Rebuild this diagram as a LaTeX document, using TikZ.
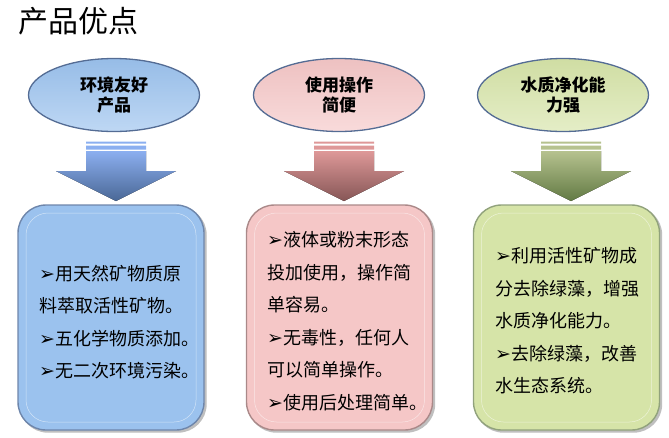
\documentclass[tikz,border=0pt]{standalone}
\usepackage{fontspec}
\usetikzlibrary{shapes.geometric}
\newfontfamily\cjk{Noto Sans CJK SC}
\newfontfamily\symfnt{DejaVu Sans}
\definecolor{pvblue}{RGB}{155,194,238}
\definecolor{pvpink}{RGB}{245,199,199}
\definecolor{pvgreen}{RGB}{214,228,168}
\definecolor{pvrim}{RGB}{84,108,148}
\definecolor{pvbluedk}{RGB}{74,104,150}
\definecolor{pvpinkdk}{RGB}{134,86,86}
\definecolor{pvgreendk}{RGB}{98,122,68}
\newcommand{\pick}{{\symfnt\fontsize{19}{19}\selectfont ➢}}

\begin{document}
\begin{tikzpicture}[x=1pt,y=-1pt,font=\cjk,
    oval/.style={ellipse,draw=pvrim,line width=1.3pt,minimum width=171pt,minimum height=73pt,
      inner sep=0pt,align=center,font=\cjk\bfseries\fontsize{17}{20}\selectfont},
    panel/.style={draw,line width=1.4pt,rounded corners=28pt,minimum width=186pt,minimum height=225pt,inner sep=0pt},
    rim/.style={draw,line width=.5pt,rounded corners=22pt,minimum width=170pt,minimum height=209pt,inner sep=0pt},
    blurb/.style={anchor=west,align=left,inner sep=0pt,font=\cjk\fontsize{18}{32.5}\selectfont}]
    \useasboundingbox (0,0) rectangle (669,437);
    \node[anchor=west,inner sep=0pt,font=\cjk\fontsize{30}{30}\selectfont] (title) at (18,21) {产品优点};
    % ovals
    \node[oval,top color=pvblue!97!black,bottom color=pvblue!65!white] (eco) at (114,95) {环境友好\\产品};
    \node[oval,top color=pvpink!97!black,bottom color=pvpink!65!white] (ease) at (339,95) {使用操作\\简便};
    \node[oval,top color=pvgreen!97!black,bottom color=pvgreen!65!white] (pure) at (563,95) {水质净化能\\力强};
    % block arrows
    \fill[top color=pvblue!90!blue,bottom color=pvbluedk] (86,151) -- (146,151) -- (146,171) -- (176,171) -- (116,201) -- (56,171) -- (86,171) -- cycle;
    \fill[pvblue!90!blue] (86,141.7) rectangle (146,143.7) (86,145.7) rectangle (146,149.5);
    \fill[top color=pvpink!85!red!90!black,bottom color=pvpinkdk] (314,151) -- (374,151) -- (374,171) -- (404,171) -- (344,201) -- (284,171) -- (314,171) -- cycle;
    \fill[pvpink!85!red!90!black] (314,141.7) rectangle (374,143.7) (314,145.7) rectangle (374,149.5);
    \fill[top color=pvgreen!85!black,bottom color=pvgreendk] (541,151) -- (601,151) -- (601,171) -- (631,171) -- (571,201) -- (511,171) -- (541,171) -- cycle;
    \fill[pvgreen!85!black] (541,141.7) rectangle (601,143.7) (541,145.7) rectangle (601,149.5);
    % panels
    \node[panel,draw=black!25,fill=black!25] at (113,319.5) {};
    \node[panel,draw=pvbluedk!80,fill=pvblue] (ecobox) at (111,317.5) {};
    \node[rim,draw=white!55!pvblue] at (ecobox) {};
    \node[panel,draw=black!25,fill=black!25] at (341.5,319.5) {};
    \node[panel,draw=pvpinkdk!70,fill=pvpink] (easebox) at (339.5,317.5) {};
    \node[rim,draw=white!55!pvpink] at (easebox) {};
    \node[panel,draw=black!25,fill=black!25] at (568.5,319.5) {};
    \node[panel,draw=pvgreendk!70,fill=pvgreen] (purebox) at (566.5,317.5) {};
    \node[rim,draw=white!55!pvgreen] at (purebox) {};
    % texts
    \node[blurb] (ecotext) at (39,322) {\pick 用天然矿物质原\\料萃取活性矿物。\\\pick 五化学物质添加。\\\pick 无二次环境污染。};
    \node[blurb] (easetext) at (267,321) {\pick 液体或粉末形态\\投加使用，操作简\\单容易。\\\pick 无毒性，任何人\\可以简单操作。\\\pick 使用后处理简单。};
    \node[blurb] (puretext) at (495,321) {\pick 利用活性矿物成\\分去除绿藻，增强\\水质净化能力。\\\pick 去除绿藻，改善\\水生态系统。};
  \end{tikzpicture}
\end{document}
